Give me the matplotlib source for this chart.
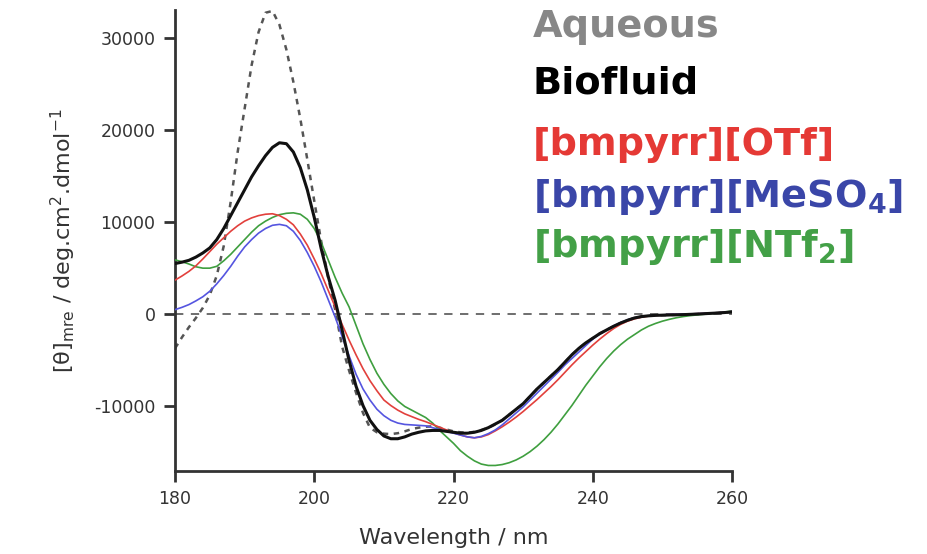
import matplotlib.pyplot as plt

# Wavelength grid (nm), one reading per nanometre
wavelength = list(range(180, 261))

# Mean residue ellipticity for each sample
aqueous = [-3700, -2500, -1400, -400, 700, 2100, 4200, 7400, 12200, 17600,
           22300, 27000, 30600, 32700, 32900, 31400, 28700, 25200, 21200, 16800,
           12300, 7900, 4000, 500, -3500, -6100, -8500, -10700, -12300, -12800,
           -12950, -13000, -12900, -12700, -12450, -12300, -12200, -12150, -12300, -12500,
           -12700, -12800, -12850, -12750, -12550, -12300, -11950, -11500, -10900, -10300,
           -9700, -8900, -8100, -7400, -6700, -6000, -5200, -4400, -3700, -3100,
           -2600, -2100, -1700, -1300, -950, -650, -400, -250, -170, -120,
           -100, -80, -60, -40, -10, 20, 60, 100, 140, 190, 250]

biofluid = [5500, 5650, 5850, 6200, 6650, 7200, 8100, 9300, 10700, 12100,
            13500, 14900, 16100, 17200, 18100, 18600, 18500, 17600, 15900, 13500,
            10500, 7100, 4100, 1500, -1700, -5000, -7800, -9900, -11500, -12500,
            -13200, -13500, -13500, -13300, -13000, -12800, -12650, -12600, -12600, -12700,
            -12800, -12900, -12900, -12800, -12600, -12300, -11900, -11500, -10900, -10300,
            -9700, -8900, -8100, -7400, -6700, -6000, -5200, -4400, -3700, -3100,
            -2600, -2100, -1700, -1300, -950, -650, -400, -250, -170, -120,
            -100, -80, -60, -40, -10, 20, 60, 100, 140, 190, 250]

otf = [3700, 4150, 4650, 5250, 6000, 6800, 7600, 8300, 9000, 9600,
       10100, 10450, 10700, 10850, 10900, 10700, 10300, 9700, 8700, 7500,
       6000, 4400, 2600, 800, -1100, -2800, -4400, -5900, -7200, -8300,
       -9300, -9900, -10400, -10800, -11100, -11400, -11650, -11950, -12250, -12550,
       -12850, -13100, -13300, -13400, -13300, -13050, -12650, -12200, -11700, -11150,
       -10550, -9900, -9250, -8550, -7850, -7100, -6300, -5500, -4750, -4050,
       -3350, -2700, -2100, -1550, -1100, -750, -500, -320, -200, -130,
       -80, -40, 0, 20, 40, 60, 90, 120, 160, 220, 300]

meso4 = [500, 750, 1050, 1450, 1900, 2500, 3300, 4200, 5200, 6300,
         7300, 8100, 8800, 9300, 9650, 9750, 9600, 9000, 8000, 6700,
         5200, 3500, 1600, -300, -2400, -4500, -6500, -8100, -9300, -10300,
         -11000, -11500, -11800, -11950, -12000, -12050, -12100, -12300, -12500, -12700,
         -12900, -13100, -13300, -13400, -13250, -12950, -12550, -12000, -11350, -10700,
         -10050, -9300, -8550, -7800, -7050, -6300, -5500, -4800, -4100, -3400,
         -2700, -2150, -1700, -1250, -900, -600, -380, -250, -170, -110,
         -70, -30, 0, 20, 40, 60, 90, 120, 160, 220, 300]

ntf2 = [5900, 5700, 5450, 5150, 5000, 5000, 5200, 5800, 6500, 7300,
        8100, 8900, 9600, 10100, 10500, 10800, 10950, 11000, 10850, 10300,
        9300, 7800, 5900, 4000, 2300, 800, -1200, -3200, -4900, -6400,
        -7600, -8600, -9400, -10000, -10400, -10800, -11200, -11800, -12600, -13300,
        -14000, -14800, -15400, -15900, -16250, -16400, -16400, -16300, -16100, -15800,
        -15400, -14900, -14300, -13600, -12800, -11900, -10900, -9900, -8800, -7700,
        -6700, -5700, -4800, -4000, -3300, -2700, -2200, -1700, -1300, -1000,
        -750, -550, -380, -250, -150, -70, 0, 70, 150, 250, 350]

legend_labels = ["Aqueous", "Biofluid", "[bmpyrr][OTf]",
                 r"[bmpyrr][MeSO$_\mathbf{4}$]", r"[bmpyrr][NTf$_\mathbf{2}$]"]
legend_colors = ["#878787", "#000000", "#e53935", "#3a46a8", "#43a047"]

plt.rcParams["font.family"] = "DejaVu Sans"
plt.rcParams["mathtext.fontset"] = "dejavusans"
plt.rcParams["axes.unicode_minus"] = False

fig = plt.figure(figsize=(9.27, 5.54), dpi=100)
ax = fig.add_axes([175 / 927, 1 - 471 / 554, (732 - 175) / 927, (471 - 10) / 554])

ax.axhline(0, color="#555555", lw=1.2, dashes=(5, 4.5), zorder=1)
ax.plot(wavelength, aqueous, color="#555555", lw=1.8, dashes=(2.2, 2.2), zorder=2)
ax.plot(wavelength, ntf2, color="#3f9f3f", lw=1.2, zorder=3)
ax.plot(wavelength, otf, color="#e2403c", lw=1.2, zorder=4)
ax.plot(wavelength, meso4, color="#5555e0", lw=1.2, zorder=5)
ax.plot(wavelength, biofluid, color="#111111", lw=2.2, zorder=6)

ax.set_xlim(180, 260)
ax.set_ylim(-17000, 33000)
ax.set_xticks([180, 200, 220, 240, 260])
ax.set_yticks([-10000, 0, 10000, 20000, 30000])

for side in ["top", "right"]:
    ax.spines[side].set_visible(False)
for side in ["left", "bottom"]:
    ax.spines[side].set_linewidth(2)
    ax.spines[side].set_color("#333333")
ax.tick_params(direction="out", length=8, width=2, color="#333333",
               labelsize=12.5, labelcolor="#333333", pad=6)

ax.set_xlabel("Wavelength / nm", fontsize=16, color="#333333", labelpad=14)
ax.set_ylabel("[θ]$_{\\mathrm{mre}}$ / deg.cm$^{2}$.dmol$^{-1}$",
              fontsize=16, color="#333333", labelpad=12)

baselines = [37, 94, 155, 207, 257]
for label, color, yb in zip(legend_labels, legend_colors, baselines):
    fig.text(533 / 927, 1 - yb / 554, label, color=color, fontsize=27.5,
             fontweight="bold", va="baseline", ha="left")

fig.savefig("out.png", dpi=100)
